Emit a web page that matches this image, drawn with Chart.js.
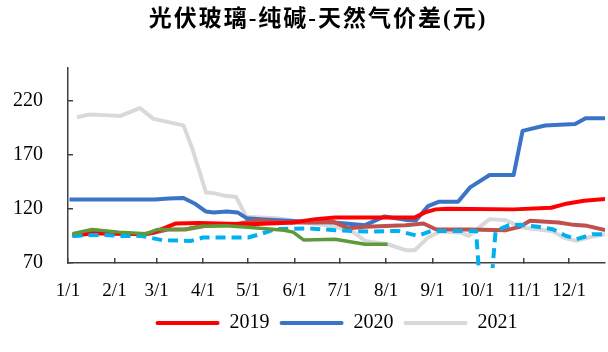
<!DOCTYPE html>
<html lang="zh">
<head>
<meta charset="UTF-8">
<title>光伏玻璃-纯碱-天然气价差(元)</title>
<style>
  html, body { margin: 0; padding: 0; background: #fff; }
  .wrap { position: relative; width: 608px; height: 352px; }
  #title {
    position: absolute; left: 0; top: -1px; width: 636px;
    text-align: center; color: #000;
    font: bold 23px "Liberation Serif", "Noto Sans CJK SC", serif;
    letter-spacing: 2px;
  }
</style>
</head>
<body>
<div class="wrap">
  <canvas id="spread"></canvas>
  <div id="title">光伏玻璃-纯碱-天然气价差(元)</div>
</div>
<script src="https://cdn.jsdelivr.net/npm/chart.js@4.4.0/dist/chart.umd.min.js"></script>
<script>
// x axis = day of year, ticks on the first of each month
const monthStartDays = [0, 31, 59, 90, 120, 151, 181, 212, 243, 273, 304, 334];
const monthLabels = ['1/1', '2/1', '3/1', '4/1', '5/1', '6/1', '7/1', '8/1', '9/1', '10/1', '11/1', '12/1'];
const yTicks = [70, 120, 170, 220];

// 2019
const days2019 = [3, 16, 34, 52, 60, 72, 87, 122, 150, 165, 178, 213, 231, 238, 245, 253, 297, 322, 331, 344, 358];
const vals2019 = [95, 97.5, 97, 96.5, 100, 106.5, 107, 105.8, 107.4, 110.5, 112, 112, 112, 116.7, 119.5, 120, 119.5, 121, 124.4, 127.4, 129];

// 2020
const days2020 = [1, 58, 67, 77, 85, 92, 97, 106, 113, 119, 128, 146, 159, 177, 185, 198, 211, 225, 232, 240, 247, 260, 268, 281, 297, 303, 318, 338, 345, 358];
const vals2020 = [128.7, 128.7, 129.6, 130, 124.4, 117.5, 116.7, 117.6, 116.7, 111.4, 110.5, 108.9, 108, 107.4, 106.5, 104.9, 113, 109.8, 109.5, 122.5, 126.5, 126.5, 139.8, 151.2, 151.2, 192, 196.9, 198.4, 203.7, 203.7];

// 2021
const days2021 = [6, 14, 24, 35, 48, 57, 77, 83, 92, 97, 105, 112, 119, 128, 139, 148, 157, 175, 189, 198, 213, 225, 231, 240, 248, 262, 267, 281, 292, 302, 323, 331, 339, 348, 358];
const vals2021 = [204.6, 207, 206.5, 205.8, 213, 203, 197, 175, 135, 134.5, 132, 131, 112.6, 112, 111.4, 109.8, 107.4, 104.3, 99.6, 90.4, 87.3, 81.8, 81.8, 93.5, 99, 98, 95, 110.5, 109.5, 103, 99.3, 93, 90.4, 94, 96.6];

// unlabelled series (not in legend)
const daysDarkRed = [3, 21, 49, 58, 67, 78, 92, 109, 126, 142, 165, 177, 187, 198, 225, 237, 245, 267, 292, 301, 308, 327, 337, 346, 358];
const valsDarkRed = [96, 98, 96.5, 98, 101, 101, 104.3, 105.2, 109.5, 107.4, 107.4, 108, 102, 103.5, 104.9, 106.5, 101.2, 101, 100.3, 103.4, 108.9, 107.4, 105.2, 104.3, 100.5];

const daysGreen = [3, 16, 34, 52, 60, 78, 89, 105, 120, 144, 150, 157, 178, 185, 198, 213];
const valsGreen = [97, 101, 98.5, 97, 101, 101.2, 104, 104.3, 103, 100.3, 98.5, 91.3, 92, 90.4, 87.3, 87.3];

const daysCyan = [3, 23, 34, 49, 63, 82, 90, 109, 120, 128, 138, 160, 178, 200, 220, 233, 242, 255, 272, 278, 285, 294, 302, 313, 323, 332, 339, 350, 358];
const valsCyan = [95, 96, 95, 95, 91, 90.4, 93.5, 93.5, 93.5, 96.6, 101.2, 102, 100.3, 99, 99.6, 95, 99.6, 99.6, 99.6, -20, 99.6, 104.9, 105.2, 103.4, 101.2, 95, 92, 96.6, 96.6];

const serif = 'Liberation Serif';

function series(label, days, vals, color, order, extra) {
  return Object.assign({
    label: label,
    data: days.map((d, i) => ({ x: d, y: vals[i] })),
    borderColor: color,
    backgroundColor: color,
    borderWidth: 4,
    pointRadius: 0,
    tension: 0,
    fill: false,
    borderJoinStyle: 'round',
    order: order
  }, extra || {});
}

const datasets = [
  series('2019', days2019, vals2019, '#FF0000', 2),
  series('2020', days2020, vals2020, '#3A74C6', 4),
  series('2021', days2021, vals2021, '#D9D9D9', 5),
  series('s4', daysDarkRed, valsDarkRed, '#C0504D', 3),
  series('s5', daysGreen, valsGreen, '#5E9A3A', 0, { borderWidth: 3.5 }),
  series('s6', daysCyan, valsCyan, '#00B0F0', 1, {
    borderDash: [10, 6],
    clip: { left: 2, top: 2, right: 2, bottom: 5 }
  })
];

new Chart(document.getElementById('spread'), {
  type: 'line',
  data: { datasets: datasets },
  options: {
    responsive: true,
    maintainAspectRatio: false,
    animation: false,
    layout: { padding: { top: 68, right: 0, bottom: 9, left: 0 } },
    plugins: {
      title: { display: false },
      tooltip: { enabled: false },
      legend: {
        position: 'bottom',
        fullSize: false,
        labels: {
          boxWidth: 64,
          boxHeight: 4,
          useBorderRadius: true,
          borderRadius: 2,
          padding: 10,
          color: '#000',
          font: { family: serif, size: 20 },
          sort: (a, b) => a.datasetIndex - b.datasetIndex,
          generateLabels(chart) {
            const items = Chart.defaults.plugins.legend.labels.generateLabels(chart);
            items.forEach(it => { it.lineWidth = 0; it.lineDash = []; });
            return items.filter(it => it.datasetIndex < 3);
          }
        }
      }
    },
    scales: {
      x: {
        type: 'linear',
        min: 0,
        max: 358,
        afterBuildTicks: s => { s.ticks = monthStartDays.map(v => ({ value: v })); },
        afterFit: s => { s.height = 40; },
        ticks: {
          autoSkip: false,
          maxRotation: 0,
          padding: 22,
          color: '#000',
          font: { family: serif, size: 19 },
          callback: (v, i) => monthLabels[i]
        },
        grid: { drawOnChartArea: false, tickLength: -5, color: '#404040', lineWidth: 1.5 },
        border: { color: '#404040', width: 1.5 }
      },
      y: {
        min: 70,
        max: 250,
        afterBuildTicks: s => { s.ticks = yTicks.map(v => ({ value: v })); },
        afterFit: s => { s.width = 68; },
        ticks: {
          padding: 30,
          color: '#000',
          font: { family: serif, size: 20 }
        },
        grid: { drawOnChartArea: false, tickLength: -5, color: '#404040', lineWidth: 1.5 },
        border: { color: '#404040', width: 1.5 }
      }
    }
  }
});
</script>
</body>
</html>
